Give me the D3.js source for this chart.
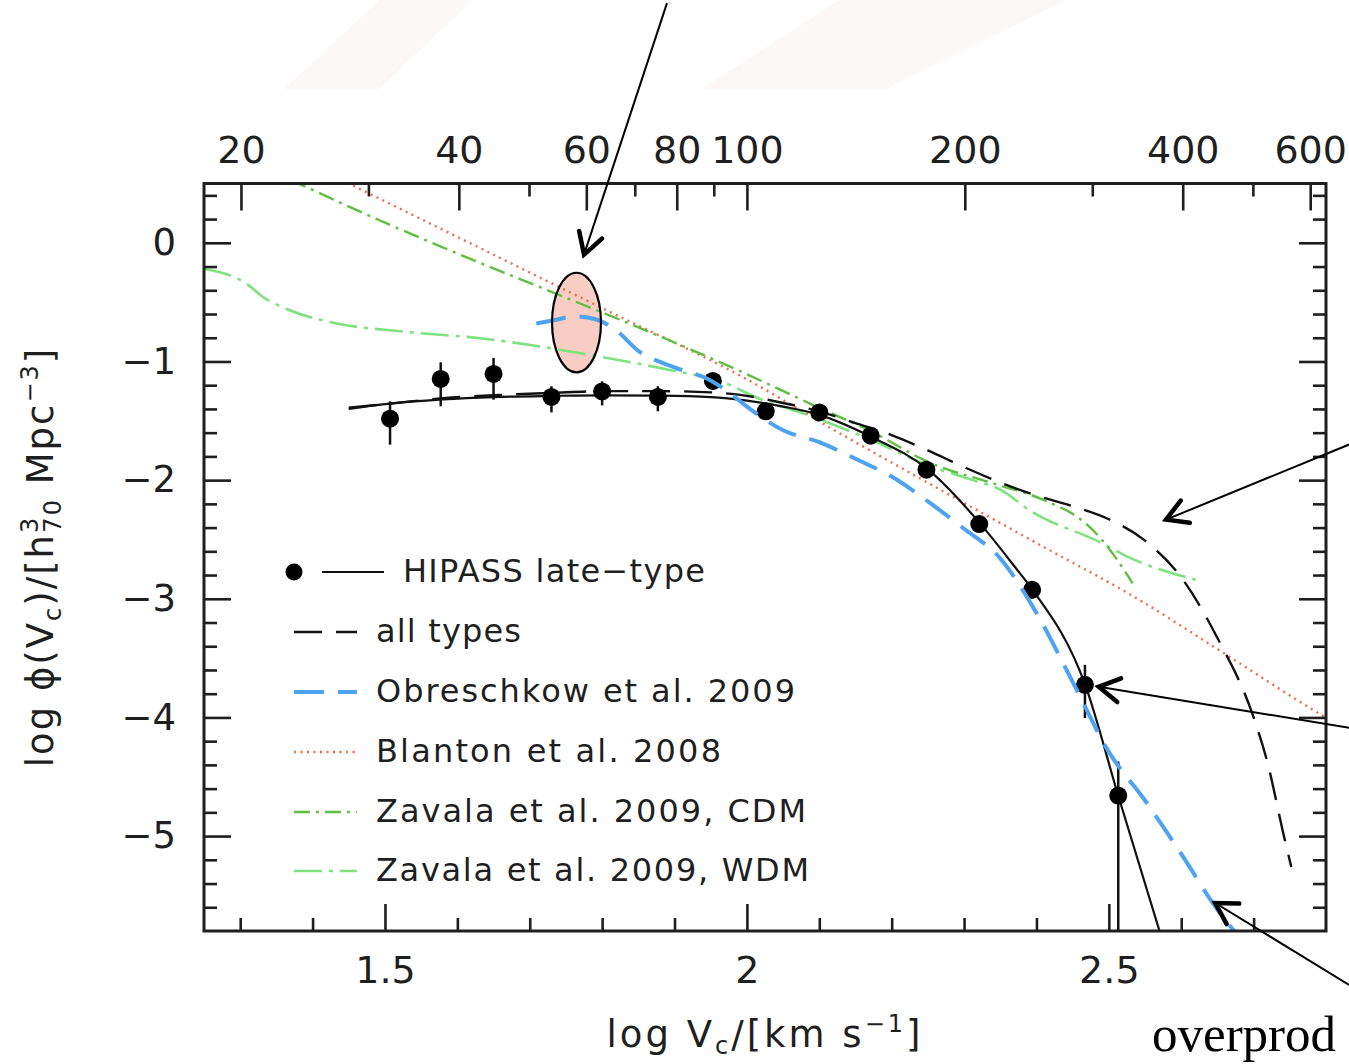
<!DOCTYPE html>
<html>
<head>
<meta charset="utf-8">
<script src="https://cdn.jsdelivr.net/npm/d3@7"></script>
<style>
  html, body { margin: 0; padding: 0; background: #ffffff; }
  svg { display: block; }
</style>
</head>
<body>
<svg id="chart" width="1349" height="1064"></svg>
<script>
// ---------------- DATA ----------------
// HIPASS late-type points (log Vc, log phi) with error-bar bounds
const hipassLogV   = [1.507, 1.577, 1.650, 1.730, 1.800, 1.877, 1.953, 2.026, 2.100, 2.171, 2.248, 2.321, 2.394, 2.467, 2.513];
const hipassLogPhi = [-1.482, -1.147, -1.105, -1.299, -1.252, -1.299, -1.164, -1.420, -1.429, -1.625, -1.912, -2.370, -2.924, -3.725, -4.659];
const hipassErrHi  = [-1.336, -1.007, -0.970, -1.209, -1.167, -1.209, -1.130, -1.380, -1.390, -1.570, -1.870, -2.320, -2.850, -3.557, -4.372];
const hipassErrLo  = [-1.701, -1.378, -1.322, -1.429, -1.370, -1.420, -1.200, -1.460, -1.470, -1.680, -1.950, -2.420, -3.000, -4.006, -8.000];

// HIPASS late-type fit (solid)
const fitLogV   = [1.45, 1.50, 1.58, 1.65, 1.73, 1.80, 1.88, 1.95, 2.00, 2.05, 2.10, 2.17, 2.25, 2.32, 2.37, 2.394, 2.467, 2.513, 2.58];
const fitLogPhi = [-1.40, -1.36, -1.32, -1.30, -1.29, -1.285, -1.288, -1.30, -1.33, -1.38, -1.45, -1.63, -1.91, -2.35, -2.73, -2.92, -3.72, -4.66, -6.00];

// all types (black dashed)
const allLogV   = [1.45, 1.50, 1.58, 1.65, 1.73, 1.80, 1.88, 1.95, 2.00, 2.05, 2.10, 2.15, 2.20, 2.25, 2.30, 2.35, 2.40, 2.45, 2.50, 2.55, 2.60, 2.65, 2.70, 2.72, 2.74, 2.752];
const allLogPhi = [-1.39, -1.36, -1.31, -1.285, -1.265, -1.25, -1.25, -1.26, -1.29, -1.35, -1.42, -1.52, -1.62, -1.75, -1.89, -2.02, -2.13, -2.22, -2.33, -2.51, -2.82, -3.33, -4.00, -4.40, -4.95, -5.26];

// Obreschkow et al. 2009 (blue dashed)
const obrLogV   = [1.709, 1.735, 1.761, 1.78, 1.798, 1.82, 1.85, 1.90, 1.95, 1.975, 2.00, 2.05, 2.10, 2.15, 2.20, 2.25, 2.30, 2.35, 2.40, 2.45, 2.50, 2.55, 2.60, 2.65, 2.68];
const obrLogPhi = [-0.68, -0.65, -0.62, -0.63, -0.66, -0.74, -0.91, -1.05, -1.16, -1.26, -1.38, -1.58, -1.68, -1.82, -1.97, -2.18, -2.41, -2.66, -3.12, -3.70, -4.29, -4.70, -5.15, -5.62, -5.85];

// Blanton et al. 2008 (red dotted)
const blaLogV   = [1.44, 1.60, 1.80, 2.00, 2.124, 2.267, 2.40, 2.534, 2.672, 2.754, 2.81];
const blaLogPhi = [0.53, 0.05, -0.55, -1.15, -1.59, -2.08, -2.53, -2.98, -3.51, -3.83, -4.04];

// Zavala et al. 2009, CDM (dark green dash-dot)
const cdmLogV   = [1.37, 1.50, 1.60, 1.745, 1.90, 1.99, 2.096, 2.175, 2.248, 2.347, 2.409, 2.467, 2.49, 2.533];
const cdmLogPhi = [0.53, 0.17, -0.09, -0.45, -0.84, -1.08, -1.38, -1.60, -1.84, -2.04, -2.165, -2.36, -2.50, -2.87];

// Zavala et al. 2009, WDM (light green dash-dot)
const wdmLogV   = [1.25, 1.31, 1.33, 1.365, 1.43, 1.53, 1.64, 1.76, 1.90, 1.96, 2.02, 2.083, 2.175, 2.248, 2.312, 2.35, 2.392, 2.49, 2.524, 2.62];
const wdmLogPhi = [-0.22, -0.35, -0.45, -0.56, -0.675, -0.75, -0.81, -0.92, -1.08, -1.16, -1.32, -1.45, -1.67, -1.87, -2.00, -2.08, -2.26, -2.53, -2.64, -2.84];

// ticks
const bottomMajor = [1.5, 2, 2.5];
const bottomMinor = [1.3, 1.4, 1.6, 1.7, 1.8, 1.9, 2.1, 2.2, 2.3, 2.4, 2.6, 2.7];
const topMajor = [20, 40, 60, 80, 100, 200, 400, 600];
const topMinor = [30, 50, 70, 90, 300, 500];
const leftMajor = [0, -1, -2, -3, -4, -5];
const leftMinor = [0.4, 0.2, -0.2, -0.4, -0.6, -0.8, -1.2, -1.4, -1.6, -1.8, -2.2, -2.4, -2.6, -2.8,
                   -3.2, -3.4, -3.6, -3.8, -4.2, -4.4, -4.6, -4.8, -5.2, -5.4, -5.6];

// legend
const legendLabels = ["HIPASS late\u2212type", "all types", "Obreschkow et al. 2009", "Blanton et al. 2008",
                      "Zavala et al. 2009, CDM", "Zavala et al. 2009, WDM"];

// annotations (data coordinates)
const ellipseCenter = [1.7646, -0.672];
const ellipseRadii = [0.0338, 0.42];
const arrowFrom = [[1.8896, 2.02], [2.832, -1.70], [2.832, -4.087], [2.832, -6.255]];
const arrowTo   = [[1.775, -0.099], [2.579, -2.333], [2.486, -3.742], [2.647, -5.564]];

// ---------------- DRAW ----------------
const svg = d3.select("#chart");
const FONT = "'DejaVu Sans', 'Noto Sans', sans-serif";
const INK = "#1f1f1f";

const x = d3.scaleLinear().domain([1.25, 2.8]).range([204, 1326]);
const xTop = d3.scaleLog().domain([Math.pow(10, 1.25), Math.pow(10, 2.8)]).range([204, 1326]);
const y = d3.scaleLinear().domain([-5.8, 0.5]).range([931, 183.5]);

// very faint background decoration
const bg = svg.append("g").attr("fill", "#fcf8f7");
bg.append("polygon").attr("points", "379,0 473,0 379,89 284,89");
bg.append("polygon").attr("points", "839,0 1067,0 886,89 701,89");

svg.append("clipPath").attr("id", "plotclip")
  .append("rect").attr("x", 204).attr("y", 183.5).attr("width", 1122).attr("height", 747.5);

// ellipse fill (under curves)
const ecx = x(ellipseCenter[0]), ecy = y(ellipseCenter[1]);
const erx = x(ellipseCenter[0] + ellipseRadii[0]) - ecx;
const ery = ecy - y(ellipseCenter[1] + ellipseRadii[1]);
svg.append("ellipse").attr("cx", ecx).attr("cy", ecy).attr("rx", erx).attr("ry", ery)
  .attr("fill", "#f8cdc3");

const plot = svg.append("g").attr("clip-path", "url(#plotclip)");

const styles = {
  fit: { stroke: "#111", width: 2.2, dash: null },
  all: { stroke: "#111", width: 2.4, dash: "28,14" },
  obr: { stroke: "#4da3ef", width: 4, dash: "30,14" },
  bla: { stroke: "#f06a4c", width: 2.4, dash: "2,4.5" },
  cdm: { stroke: "#5fbf40", width: 2.4, dash: "16,6,3,6" },
  wdm: { stroke: "#7ee27e", width: 2.6, dash: "28,7,4,7" }
};

const lineGen = d3.line().x(d => x(d[0])).y(d => y(d[1])).curve(d3.curveMonotoneX);
function drawCurve(xs, ys, st) {
  const pts = xs.map((v, i) => [v, ys[i]]);
  const p = plot.append("path").datum(pts)
    .attr("d", lineGen).attr("fill", "none")
    .attr("stroke", st.stroke).attr("stroke-width", st.width);
  if (st.dash) p.attr("stroke-dasharray", st.dash);
}

drawCurve(blaLogV, blaLogPhi, styles.bla);
drawCurve(wdmLogV, wdmLogPhi, styles.wdm);
drawCurve(cdmLogV, cdmLogPhi, styles.cdm);
drawCurve(allLogV, allLogPhi, styles.all);
drawCurve(fitLogV, fitLogPhi, styles.fit);

// HIPASS points and error bars
const pts = hipassLogV.map((v, i) => ({ v, p: hipassLogPhi[i], hi: hipassErrHi[i], lo: hipassErrLo[i] }));
plot.selectAll("line.err").data(pts).enter().append("line")
  .attr("x1", d => x(d.v)).attr("x2", d => x(d.v))
  .attr("y1", d => y(d.hi)).attr("y2", d => y(d.lo))
  .attr("stroke", "#111").attr("stroke-width", 2.5);
plot.selectAll("circle.pt").data(pts).enter().append("circle")
  .attr("cx", d => x(d.v)).attr("cy", d => y(d.p)).attr("r", 9)
  .attr("fill", "#000");

drawCurve(obrLogV, obrLogPhi, styles.obr);

// ellipse outline
svg.append("ellipse").attr("cx", ecx).attr("cy", ecy).attr("rx", erx).attr("ry", ery)
  .attr("fill", "none").attr("stroke", "#000").attr("stroke-width", 2.2);

// ---------------- AXES ----------------
function styleAxis(g, fs) {
  g.select(".domain").remove();
  g.selectAll(".tick line").attr("stroke", INK).attr("stroke-width", 2.6);
  g.selectAll(".tick text").attr("fill", INK).attr("font-size", fs).attr("font-family", FONT);
  g.attr("font-family", FONT);
}

const fmt = d3.format("~g");
const gB = svg.append("g").attr("transform", "translate(0,931)")
  .call(d3.axisBottom(x).tickValues(bottomMajor).tickSize(-27).tickPadding(25).tickFormat(fmt));
styleAxis(gB, 38);
const gBm = svg.append("g").attr("transform", "translate(0,931)")
  .call(d3.axisBottom(x).tickValues(bottomMinor).tickSize(-13).tickFormat(""));
styleAxis(gBm, 38);

const gT = svg.append("g").attr("transform", "translate(0,183.5)")
  .call(d3.axisTop(xTop).tickValues(topMajor).tickSize(-27).tickPadding(21).tickFormat(d3.format("d")));
styleAxis(gT, 38);
const gTm = svg.append("g").attr("transform", "translate(0,183.5)")
  .call(d3.axisTop(xTop).tickValues(topMinor).tickSize(-13).tickFormat(""));
styleAxis(gTm, 38);

const gL = svg.append("g").attr("transform", "translate(204,0)")
  .call(d3.axisLeft(y).tickValues(leftMajor).tickSize(-27).tickPadding(28).tickFormat(fmt));
styleAxis(gL, 37);
const gLm = svg.append("g").attr("transform", "translate(204,0)")
  .call(d3.axisLeft(y).tickValues(leftMinor).tickSize(-13).tickFormat(""));
styleAxis(gLm, 37);

const gR = svg.append("g").attr("transform", "translate(1326,0)")
  .call(d3.axisRight(y).tickValues(leftMajor).tickSize(-27).tickFormat(""));
styleAxis(gR, 37);
const gRm = svg.append("g").attr("transform", "translate(1326,0)")
  .call(d3.axisRight(y).tickValues(leftMinor).tickSize(-13).tickFormat(""));
styleAxis(gRm, 37);

// frame
svg.append("rect").attr("x", 204).attr("y", 183.5).attr("width", 1122).attr("height", 747.5)
  .attr("fill", "none").attr("stroke", INK).attr("stroke-width", 3);

// axis titles
const xt = svg.append("text").attr("x", 765).attr("y", 1047).attr("text-anchor", "middle")
  .attr("font-family", FONT).attr("font-size", 37).attr("fill", INK).attr("letter-spacing", 3);
xt.append("tspan").text("log V");
xt.append("tspan").attr("font-size", 24).attr("dy", 7).text("c");
xt.append("tspan").attr("dy", -7).text("/[km s");
xt.append("tspan").attr("font-size", 24).attr("dy", -15).text("\u22121");
xt.append("tspan").attr("dy", 15).text("]");

const yt = svg.append("text").attr("transform", "translate(53,557) rotate(-90)").attr("text-anchor", "middle")
  .attr("font-family", FONT).attr("font-size", 37).attr("fill", INK).attr("letter-spacing", 2);
yt.append("tspan").text("log \u03d5(V");
yt.append("tspan").attr("font-size", 24).attr("dy", 8).text("c");
yt.append("tspan").attr("dy", -8).text(")/[h");
yt.append("tspan").attr("font-size", 24).attr("dy", -15).text("3");
yt.append("tspan").attr("font-size", 24).attr("dx", -17).attr("dy", 23).text("70");
yt.append("tspan").attr("dy", -8).text(" Mpc");
yt.append("tspan").attr("font-size", 24).attr("dy", -15).text("\u22123");
yt.append("tspan").attr("dy", 15).text("]");

// ---------------- LEGEND ----------------
const legendKeys = ["fit", "all", "obr", "bla", "cdm", "wdm"];
const legendRowY = [572, 632, 692, 752, 812, 871];
const legendTextLen = [302, 145, 419, 345, 430, 433];
const leg = svg.append("g");
legendKeys.forEach((k, i) => {
  const st = styles[k];
  const cy = legendRowY[i];
  let x1 = 294, x2 = 357, tx = 376;
  if (k === "fit") {
    leg.append("circle").attr("cx", 294).attr("cy", cy).attr("r", 8.5).attr("fill", "#000");
    x1 = 322; x2 = 384; tx = 403;
  }
  const ln = leg.append("line").attr("x1", x1).attr("x2", x2).attr("y1", cy).attr("y2", cy)
    .attr("stroke", st.stroke).attr("stroke-width", st.width);
  if (st.dash) ln.attr("stroke-dasharray", st.dash);
  leg.append("text").attr("x", tx).attr("y", cy + 10)
    .attr("font-family", FONT).attr("font-size", 32).attr("fill", INK)
    .attr("textLength", legendTextLen[i]).attr("lengthAdjust", "spacing")
    .text(legendLabels[i]);
});

// ---------------- ANNOTATION ARROWS ----------------
const ann = svg.append("g").attr("stroke", "#000").attr("fill", "none");
arrowFrom.forEach((f, i) => {
  const t = arrowTo[i];
  const sx = x(f[0]), sy = y(f[1]), tx = x(t[0]), ty = y(t[1]);
  ann.append("line").attr("x1", sx).attr("y1", sy).attr("x2", tx).attr("y2", ty).attr("stroke-width", 2);
  const ang = Math.atan2(sy - ty, sx - tx);
  const L = 24, a = Math.PI / 6;
  const p1 = [tx + L * Math.cos(ang + a), ty + L * Math.sin(ang + a)];
  const p2 = [tx + L * Math.cos(ang - a), ty + L * Math.sin(ang - a)];
  ann.append("path").attr("d", `M${p1[0]},${p1[1]}L${tx},${ty}L${p2[0]},${p2[1]}`)
    .attr("stroke-width", 4.5).attr("stroke-linecap", "round").attr("stroke-linejoin", "miter");
});

// cut-off annotation text at bottom right
svg.append("text").attr("x", 1152).attr("y", 1051)
  .attr("font-family", "'Liberation Serif', 'Times New Roman', serif").attr("font-size", 51)
  .attr("fill", "#000").text("overprod");
</script>
</body>
</html>
